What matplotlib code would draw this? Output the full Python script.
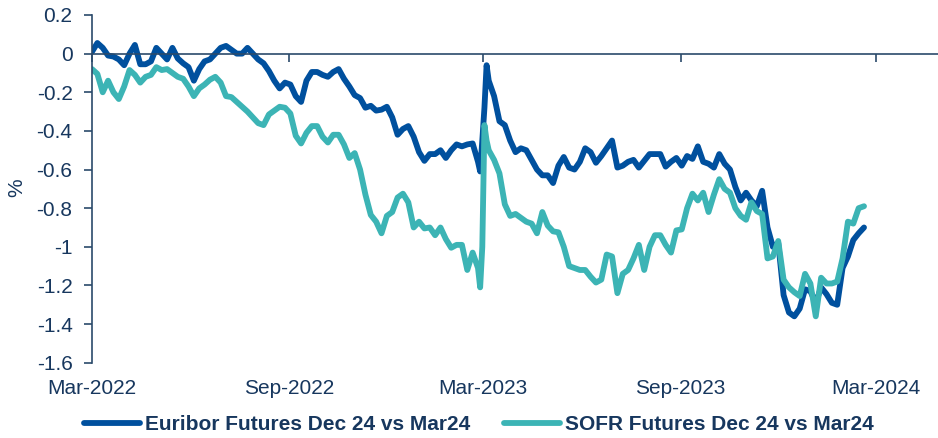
## plot.py - Euribor vs SOFR futures spread (Dec 24 vs Mar24)

import matplotlib
matplotlib.use('Agg')
import matplotlib.pyplot as plt
import matplotlib.transforms as mtransforms
import numpy as np
import pandas as pd

## DATA

start = pd.Timestamp('2022-03-01')
# day offsets from start (denser around the Mar-2023 spike)
day_offsets = list(range(0, 361, 5)) + [362, 364, 366, 368] + list(range(370, 721, 5))
dates = start + pd.to_timedelta(day_offsets, unit='D')

euribor = [
    0.01, 0.055, 0.03, -0.01, -0.015, -0.03, -0.06, 0.0, 0.045, -0.055,
    -0.055, -0.04, 0.03, 0.0, -0.03, 0.03, -0.025, -0.05, -0.07, -0.14,
    -0.08, -0.04, -0.03, 0.0, 0.03, 0.04, 0.02, 0.0, 0.0, 0.03,
    0.0, -0.03, -0.05, -0.09, -0.14, -0.18, -0.15, -0.16, -0.22, -0.25,
    -0.14, -0.095, -0.095, -0.11, -0.12, -0.095, -0.08, -0.13, -0.17, -0.215,
    -0.23, -0.28, -0.27, -0.295, -0.29, -0.275, -0.33, -0.42, -0.39, -0.375,
    -0.43, -0.51, -0.555, -0.52, -0.52, -0.5, -0.54, -0.5, -0.47, -0.48,
    -0.47, -0.465, -0.56,
    -0.61, -0.45, -0.28, -0.06,
    -0.14, -0.22, -0.35, -0.37, -0.45, -0.51,
    -0.49, -0.5, -0.55, -0.6, -0.63, -0.63, -0.67, -0.58, -0.535, -0.59,
    -0.6, -0.56, -0.49, -0.51, -0.565, -0.53, -0.49, -0.45, -0.59, -0.58,
    -0.56, -0.55, -0.59, -0.555, -0.52, -0.52, -0.52, -0.585, -0.56, -0.54,
    -0.58, -0.53, -0.545, -0.48, -0.56, -0.57, -0.59, -0.52, -0.57, -0.6,
    -0.69, -0.76, -0.72, -0.76, -0.79, -0.71, -0.9, -1.0, -0.98, -1.25,
    -1.34, -1.36, -1.32, -1.22, -1.23, -1.29, -1.21, -1.245, -1.29, -1.3,
    -1.11, -1.05, -0.965, -0.93, -0.9,
]

sofr = [
    -0.08, -0.105, -0.2, -0.14, -0.2, -0.235, -0.17, -0.085, -0.11, -0.15,
    -0.12, -0.11, -0.07, -0.085, -0.08, -0.1, -0.12, -0.13, -0.17, -0.22,
    -0.18, -0.16, -0.135, -0.12, -0.15, -0.22, -0.225, -0.25, -0.275, -0.3,
    -0.33, -0.36, -0.37, -0.315, -0.295, -0.275, -0.28, -0.31, -0.425, -0.465,
    -0.41, -0.375, -0.375, -0.43, -0.46, -0.42, -0.42, -0.47, -0.54, -0.515,
    -0.6, -0.73, -0.835, -0.87, -0.93, -0.84, -0.82, -0.745, -0.725, -0.77,
    -0.9, -0.87, -0.905, -0.9, -0.94, -0.9, -0.96, -1.005, -0.99, -0.99,
    -1.12, -1.03, -1.11,
    -1.21, -1.0, -0.37, -0.45,
    -0.5, -0.55, -0.62, -0.78, -0.84, -0.83,
    -0.85, -0.87, -0.88, -0.93, -0.82, -0.89, -0.92, -0.925, -1.0, -1.1,
    -1.11, -1.12, -1.12, -1.155, -1.185, -1.17, -1.04, -1.05, -1.24, -1.14,
    -1.12, -1.06, -0.99, -1.12, -1.0, -0.94, -0.94, -0.99, -1.03, -0.915,
    -0.91, -0.8, -0.725, -0.76, -0.72, -0.82, -0.73, -0.65, -0.7, -0.72,
    -0.8, -0.84, -0.86, -0.77, -0.815, -0.83, -1.06, -1.05, -0.97, -1.17,
    -1.21, -1.235, -1.255, -1.14, -1.19, -1.36, -1.16, -1.19, -1.19, -1.18,
    -1.06, -0.87, -0.88, -0.8, -0.79,
]

series_labels = ['Euribor Futures Dec 24 vs Mar24', 'SOFR Futures Dec 24 vs Mar24']
tick_dates = ['2022-03-01', '2022-09-01', '2023-03-01', '2023-09-01', '2024-03-01']
tick_labels = ['Mar-2022', 'Sep-2022', 'Mar-2023', 'Sep-2023', 'Mar-2024']
y_ticks = [0.2, 0, -0.2, -0.4, -0.6, -0.8, -1, -1.2, -1.4, -1.6]

## PLOT

text_col = '#17375e'
axis_col = '#2b4a6b'
plt.rcParams['font.family'] = ['Liberation Sans', 'DejaVu Sans']
plt.rcParams['font.size'] = 15

fig = plt.figure(figsize=(9.38, 4.38), dpi=100)
ax = fig.add_axes([92 / 938, 1 - 362.7 / 438, 846 / 938, 347.7 / 438])

ax.plot(dates, euribor, color='#00509e', lw=4.2, label=series_labels[0],
        solid_joinstyle='round', solid_capstyle='round')
ax.plot(dates, sofr, color='#3cb4b5', lw=4.2, label=series_labels[1],
        solid_joinstyle='round', solid_capstyle='round')

ax.set_ylim(-1.6, 0.2)
ax.set_xlim(start, start + pd.Timedelta(days=789))

ax.set_yticks(y_ticks)
ax.set_yticklabels(['0' if v == 0 else f'{v:g}' for v in y_ticks])
ax.set_xticks(pd.to_datetime(tick_dates))
ax.set_xticklabels([])

for s in ['top', 'right']:
    ax.spines[s].set_visible(False)
ax.spines['bottom'].set_position(('data', 0))
ax.spines['bottom'].set_color(axis_col)
ax.spines['left'].set_color(axis_col)
ax.spines['bottom'].set_linewidth(1.2)
ax.spines['left'].set_linewidth(1.2)

ax.tick_params(axis='x', length=6, width=1.2, color=axis_col, direction='out', labelbottom=False)
ax.tick_params(axis='y', length=6, width=1.2, color=axis_col, direction='out',
               labelcolor=text_col, pad=8)

# x labels sit below the plot, not on the zero line
trans = mtransforms.blended_transform_factory(ax.transData, ax.transAxes)
for d, lab in zip(pd.to_datetime(tick_dates), tick_labels):
    ax.text(d, -0.073, lab, transform=trans, ha='center', va='center', color=text_col)

fig.text(17 / 938, 1 - 188 / 438, '%', rotation=90, ha='center', va='center', color=text_col)

fig.legend(loc='center', bbox_to_anchor=(479 / 938, 1 - 425 / 438), ncol=2, frameon=False,
           handlelength=2.7, handletextpad=0.25, columnspacing=1.6,
           prop={'weight': 'bold', 'size': 15}, labelcolor=text_col)

plt.savefig('out.png', dpi=100)
plt.close()
